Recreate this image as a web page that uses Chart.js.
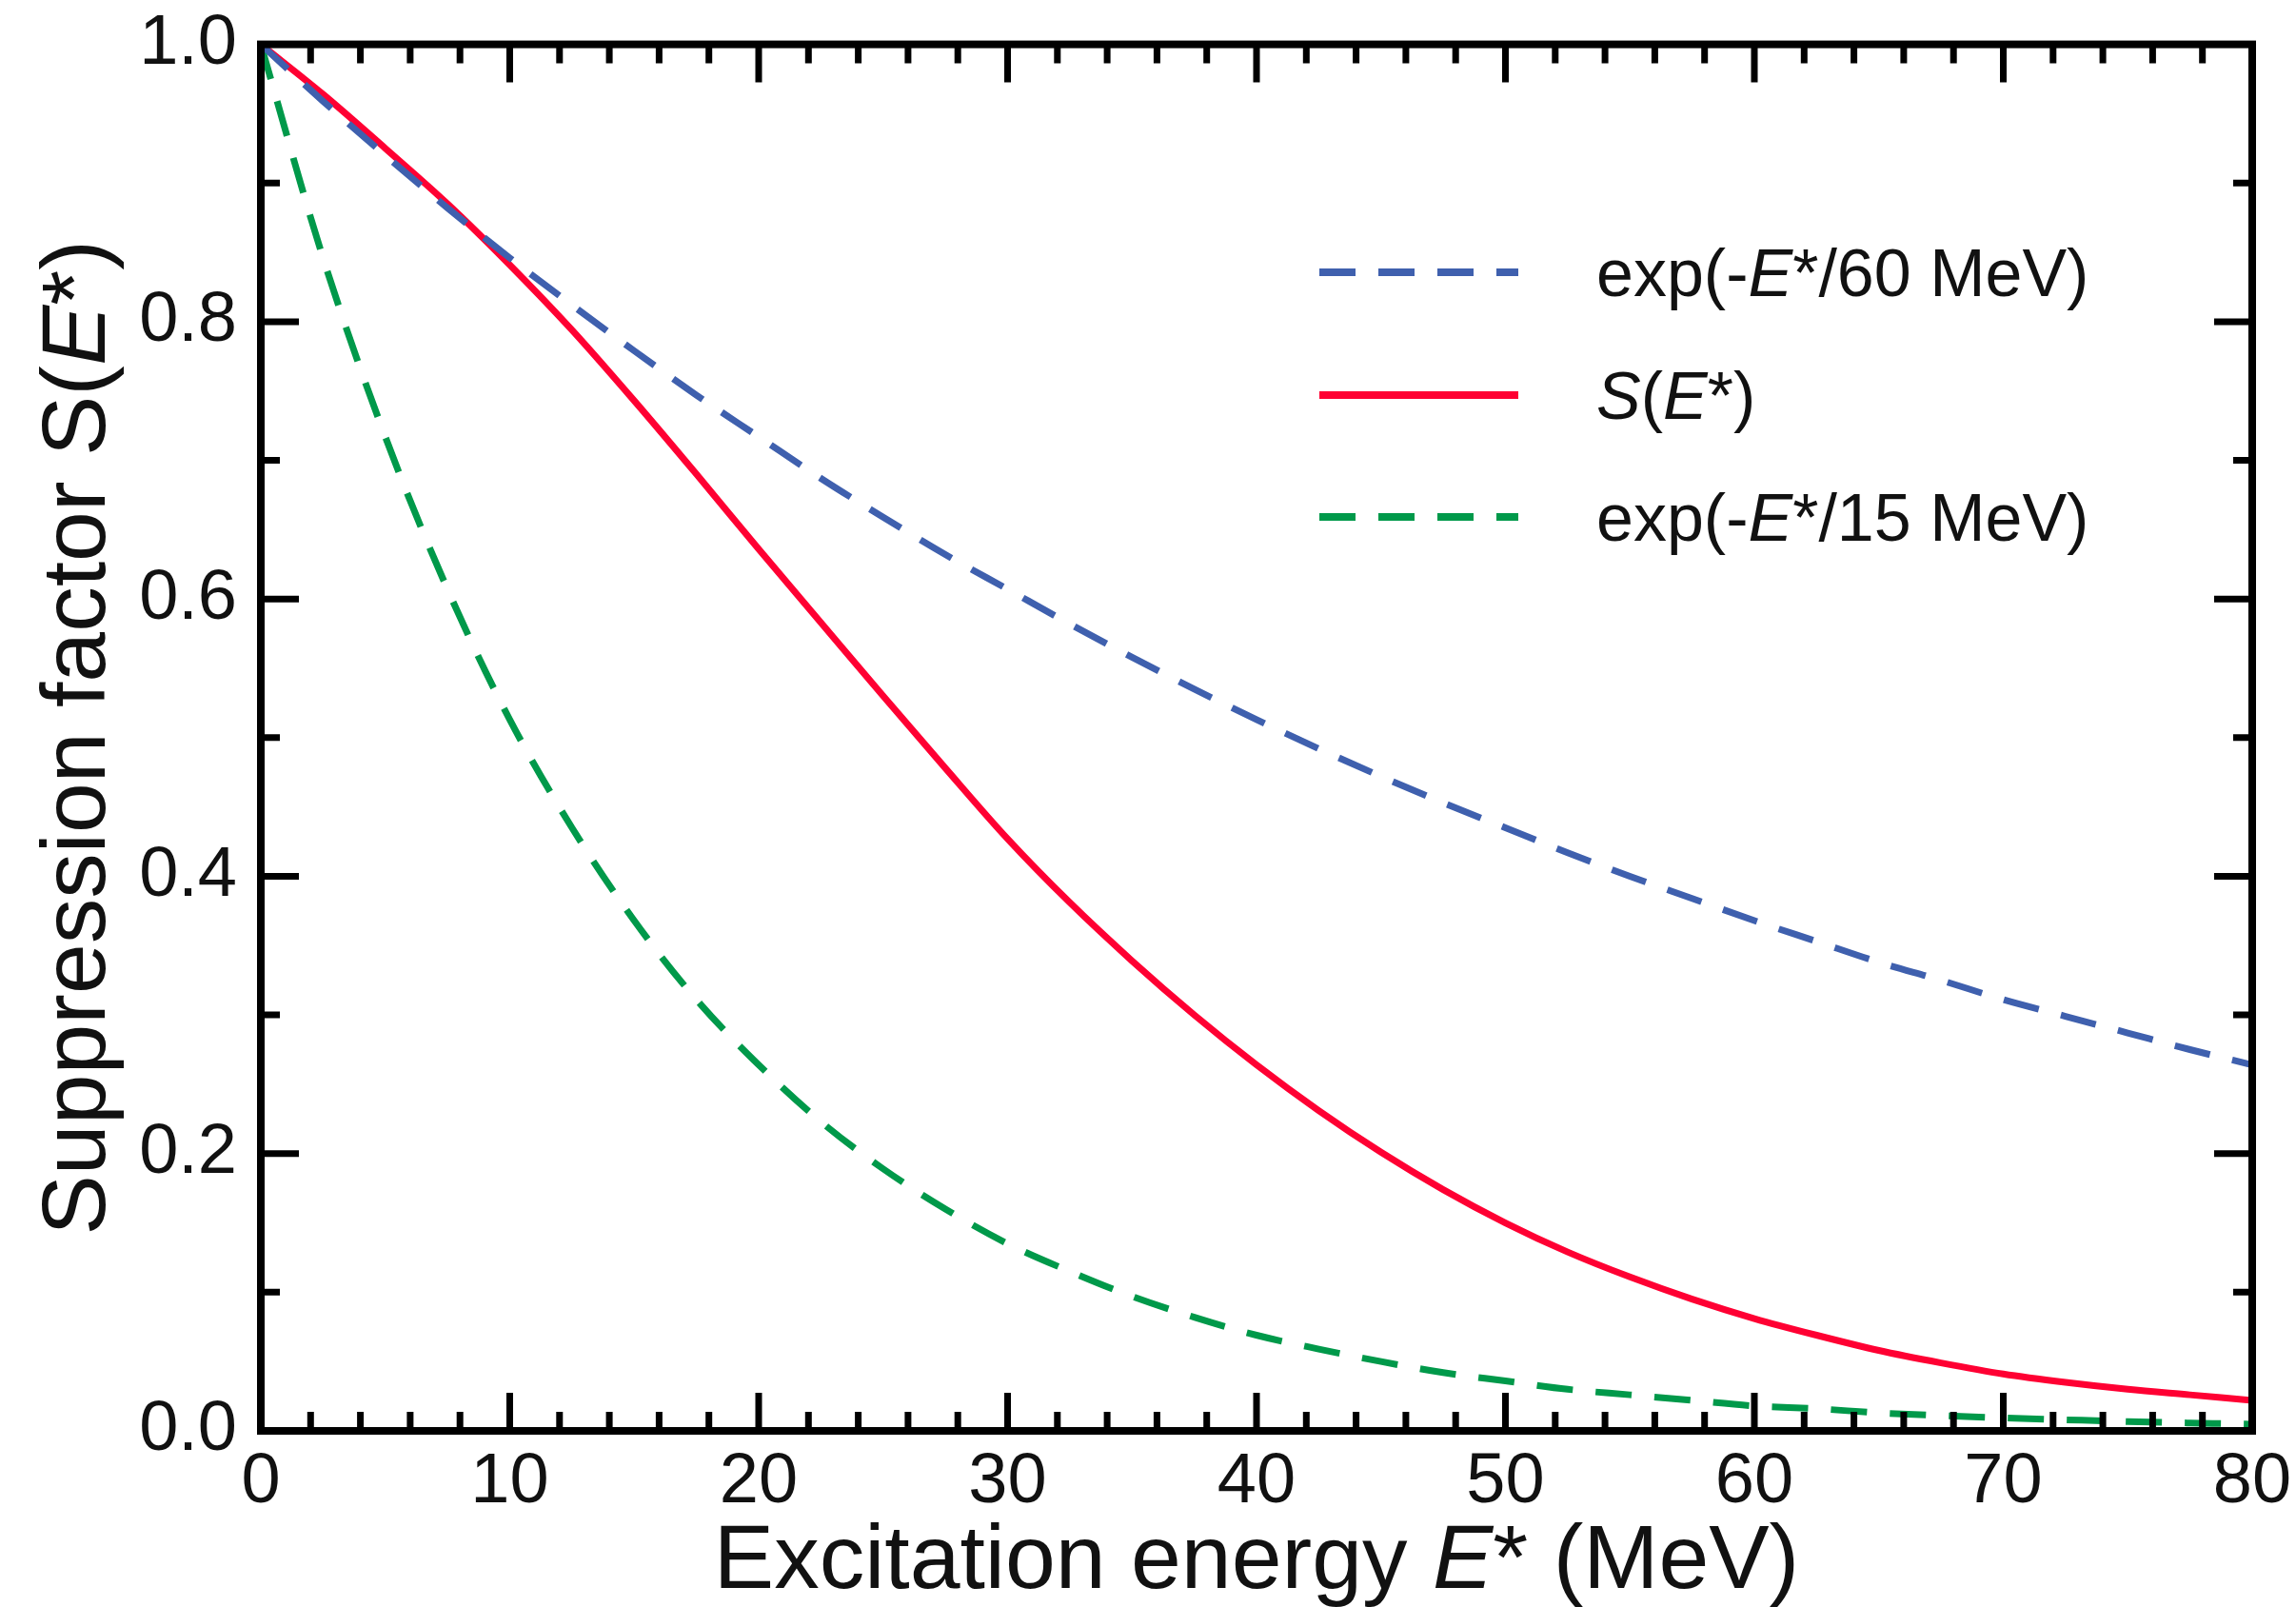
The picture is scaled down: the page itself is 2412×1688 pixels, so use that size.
<!DOCTYPE html>
<html><head><meta charset="utf-8">
<script src="https://cdn.jsdelivr.net/npm/chart.js@4/dist/chart.umd.min.js"></script>
<style>html,body{margin:0;padding:0;background:#fff;}</style>
</head><body>
<canvas id="c" width="2412" height="1688" style="width:2412px;height:1688px;display:block"></canvas>
<script>
// ---- data ----
const energy = [0,2.5,5,7.5,10,12.5,15,17.5,20,22.5,25,27.5,30,32.5,35,37.5,40,42.5,45,47.5,50,52.5,55,57.5,60,62.5,65,67.5,70,72.5,75,77.5,80];
const exp60 = [1.000,0.959,0.920,0.882,0.846,0.812,0.779,0.747,0.717,0.687,0.659,0.632,0.607,0.582,0.558,0.535,0.513,0.492,0.472,0.453,0.435,0.417,0.400,0.384,0.368,0.353,0.338,0.325,0.311,0.299,0.287,0.275,0.264];
const suppression = [1.000,0.964,0.925,0.885,0.841,0.794,0.743,0.690,0.636,0.583,0.530,0.478,0.427,0.381,0.339,0.300,0.264,0.231,0.201,0.174,0.150,0.129,0.111,0.095,0.081,0.069,0.058,0.049,0.041,0.035,0.030,0.026,0.022];
const exp15 = [1.000,0.846,0.717,0.607,0.513,0.435,0.368,0.311,0.264,0.223,0.189,0.160,0.135,0.115,0.097,0.082,0.069,0.059,0.050,0.042,0.036,0.030,0.026,0.022,0.018,0.016,0.013,0.011,0.0094,0.008,0.0067,0.0057,0.0048];
const xTickStep = 10, xMinorStep = 2;
const yTickStep = 0.2, yMinorStep = 0.1;
const seriesNames = ['exp(-E*/60 MeV)', 'S(E*)', 'exp(-E*/15 MeV)'];
// rich-text pieces (italic flags) for legend and titles
const legendRich = [
  [['exp(-',false],['E',true],['*/60 MeV)',false]],
  [['S',true],['(',false],['E',true],['*)',false]],
  [['exp(-',false],['E',true],['*/15 MeV)',false]]
];
const xTitleRich = [['Excitation energy ',false],['E',true],['* (MeV)',false]];
const yTitleRich = [['Suppression factor S(',false],['E',true],['*)',false]];

const FONT = '"Liberation Sans", Arial, Helvetica, sans-serif';
const colors = ['#3f60ae', '#ff0033', '#00994a'];
const dashes = [[38,24], [], [38,24]];

function richWidth(ctx, parts, size){
  let w = 0;
  for (const [t,it] of parts){ ctx.font = (it?'italic ':'') + size + 'px ' + FONT; w += ctx.measureText(t).width; }
  return w;
}
function drawRich(ctx, parts, x, y, size){
  ctx.textAlign = 'left'; ctx.textBaseline = 'alphabetic';
  for (const [t,it] of parts){ ctx.font = (it?'italic ':'') + size + 'px ' + FONT; ctx.fillText(t, x, y); x += ctx.measureText(t).width; }
}

const decor = {
  id: 'decor',
  afterDatasetsDraw(chart){
    const ctx = chart.ctx, a = chart.chartArea;
    const xs = chart.scales.x, ys = chart.scales.y;
    ctx.save();
    ctx.strokeStyle = '#000'; ctx.lineCap = 'butt';
    // ticks (inside, mirrored)
    ctx.lineWidth = 7;
    const MAJ = 40, MIN = 20;
    for (let v = 0; v <= 80 + 1e-9; v += xMinorStep){
      const px = xs.getPixelForValue(v);
      const L = (Math.abs(v / xTickStep - Math.round(v / xTickStep)) < 1e-6) ? MAJ : MIN;
      ctx.beginPath();
      ctx.moveTo(px, a.bottom); ctx.lineTo(px, a.bottom - L);
      ctx.moveTo(px, a.top); ctx.lineTo(px, a.top + L);
      ctx.stroke();
    }
    for (let k = 0; k <= 10; k++){
      const v = k * yMinorStep;
      const py = ys.getPixelForValue(v);
      const L = (k % 2 === 0) ? MAJ : MIN;
      ctx.beginPath();
      ctx.moveTo(a.left, py); ctx.lineTo(a.left + L, py);
      ctx.moveTo(a.right, py); ctx.lineTo(a.right - L, py);
      ctx.stroke();
    }
    // frame
    ctx.lineWidth = 8;
    ctx.strokeRect(a.left, a.top, a.right - a.left, a.bottom - a.top);

    // legend
    ctx.fillStyle = '#111';
    const legX0 = 1386, legX1 = 1595, textX = 1677, rowY = [286, 415, 543], LS = 70;
    chart.data.datasets.forEach((ds, i) => {
      ctx.save();
      ctx.strokeStyle = ds.borderColor; ctx.lineWidth = 8;
      ctx.setLineDash(ds.borderDash || []);
      ctx.beginPath(); ctx.moveTo(legX0, rowY[i]); ctx.lineTo(legX1, rowY[i]); ctx.stroke();
      ctx.restore();
      drawRich(ctx, legendRich[i], textX, rowY[i] + 0.36 * LS, LS);
    });

    // x title
    const TS = 95;
    const xw = richWidth(ctx, xTitleRich, TS);
    drawRich(ctx, xTitleRich, (a.left + a.right) / 2 - xw / 2, 1668, TS);
    // y title
    const yw = richWidth(ctx, yTitleRich, TS);
    ctx.save();
    ctx.translate(110, (a.top + a.bottom) / 2);
    ctx.rotate(-Math.PI / 2);
    drawRich(ctx, yTitleRich, -yw / 2, 0, TS);
    ctx.restore();
    ctx.restore();
  }
};

const mk = (arr) => energy.map((e, i) => ({x: e, y: arr[i]}));
new Chart(document.getElementById('c').getContext('2d'), {
  type: 'line',
  data: {
    datasets: [
      {label: seriesNames[0], data: mk(exp60), borderColor: colors[0], borderDash: dashes[0], borderWidth: 7},
      {label: seriesNames[1], data: mk(suppression), borderColor: colors[1], borderDash: dashes[1], borderWidth: 7},
      {label: seriesNames[2], data: mk(exp15), borderColor: colors[2], borderDash: dashes[2], borderWidth: 7}
    ]
  },
  options: {
    responsive: false, animation: false, devicePixelRatio: 1,
    layout: {padding: {top: 46, right: 46, left: 0, bottom: 0}},
    elements: {point: {radius: 0}, line: {cubicInterpolationMode: 'monotone', fill: false}},
    plugins: {legend: {display: false}, tooltip: {enabled: false}, title: {display: false}},
    scales: {
      x: {
        type: 'linear', min: 0, max: 80,
        ticks: {stepSize: xTickStep, autoSkip: false, maxRotation: 0, color: '#111', padding: 2,
                font: {family: FONT, size: 74}},
        grid: {display: false}, border: {display: false},
        afterFit(s){ s.height = 185; }
      },
      y: {
        type: 'linear', min: 0, max: 1,
        ticks: {stepSize: yTickStep, color: '#111', padding: 17, callback: v => Number(v).toFixed(1),
                font: {family: FONT, size: 74, lineHeight: 0.8}},
        grid: {display: false}, border: {display: false},
        afterFit(s){ s.width = 274; }
      }
    }
  },
  plugins: [decor]
});
</script>
</body></html>
